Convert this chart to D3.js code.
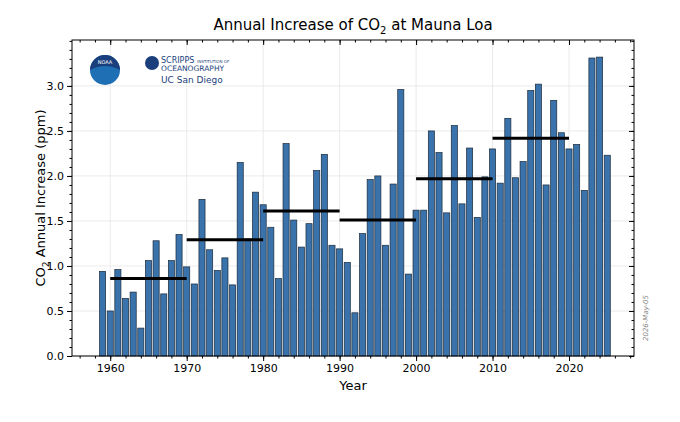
<!DOCTYPE html>
<html><head><meta charset="utf-8">
<script src="https://cdn.jsdelivr.net/npm/d3@7"></script>
<style>body{margin:0;background:#fff}text{font-family:"DejaVu Sans",sans-serif}</style>
</head><body><svg id="c" width="680" height="422"></svg>
<script>
const years = d3.range(1959, 2026);
const increase = [0.94,0.50,0.96,0.64,0.71,0.31,1.06,1.28,0.69,1.06,1.35,
  0.99,0.80,1.74,1.18,0.95,1.09,0.79,2.15,1.30,1.82,
  1.68,1.43,0.86,2.36,1.51,1.21,1.47,2.06,2.24,1.23,
  1.19,1.04,0.48,1.36,1.96,2.00,1.23,1.91,2.96,0.91,
  1.62,1.62,2.50,2.26,1.59,2.56,1.69,2.31,1.54,1.99,
  2.30,1.92,2.64,1.98,2.16,2.95,3.02,1.90,2.84,2.48,
  2.30,2.35,1.84,3.31,3.32,2.23];
const decades = [1960,1970,1980,1990,2000,2010];
const decadeMeans = [0.86,1.29,1.61,1.51,1.97,2.42];
const xTicks = [1960,1970,1980,1990,2000,2010,2020];
const yTicks = [0,0.5,1,1.5,2,2.5,3];

const svg = d3.select("#c");
const L=72,R=634,T=40,B=356;
const x = d3.scaleLinear().domain([1955,2028.5]).range([L,R]);
const y = d3.scaleLinear().domain([0,3.51]).range([B,T]);

// grid
svg.append("g").selectAll("line").data(xTicks).join("line")
  .attr("x1",d=>x(d)).attr("x2",d=>x(d)).attr("y1",T).attr("y2",B)
  .attr("stroke","#e4e4e4").attr("stroke-width",0.8);
svg.append("g").selectAll("line").data(yTicks).join("line")
  .attr("x1",L).attr("x2",R).attr("y1",d=>y(d)).attr("y2",d=>y(d))
  .attr("stroke","#e4e4e4").attr("stroke-width",0.8);

// bars
const bw = (x(1)-x(0))*0.8;
svg.append("g").selectAll("rect").data(years).join("rect")
  .attr("x",(d)=>x(d)-bw/2).attr("width",bw)
  .attr("y",(d,i)=>y(increase[i])).attr("height",(d,i)=>y(0)-y(increase[i]))
  .attr("fill","#3a72ab").attr("stroke","#1a2a3a").attr("stroke-width",0.7);

// decadal means
svg.append("g").selectAll("line").data(decades).join("line")
  .attr("x1",d=>x(d)).attr("x2",d=>x(d+10))
  .attr("y1",(d,i)=>y(decadeMeans[i])).attr("y2",(d,i)=>y(decadeMeans[i]))
  .attr("stroke","#000").attr("stroke-width",3);

// axes
const ax = svg.append("g").attr("transform",`translate(0,${B})`)
  .call(d3.axisBottom(x).tickValues(xTicks).tickFormat(d3.format("d")).tickSize(5));
svg.append("g").attr("transform",`translate(0,${B})`)
  .call(d3.axisBottom(x).tickValues(d3.range(1956,2029,2)).tickFormat("").tickSize(2.5));
const ay = svg.append("g").attr("transform",`translate(${L},0)`)
  .call(d3.axisLeft(y).tickValues(yTicks).tickFormat(d3.format(".1f")).tickSize(5));
svg.append("g").attr("transform",`translate(${L},0)`)
  .call(d3.axisLeft(y).tickValues(d3.range(0,3.51,0.1)).tickFormat("").tickSize(2.5));
svg.append("g").attr("transform",`translate(${R},0)`)
  .call(d3.axisLeft(y).tickValues(yTicks).tickFormat("").tickSize(5));
svg.append("g").attr("transform",`translate(${R},0)`)
  .call(d3.axisLeft(y).tickValues(d3.range(0,3.51,0.1)).tickFormat("").tickSize(2.5));
svg.append("g").attr("transform",`translate(0,${T})`)
  .call(d3.axisTop(x).tickValues(xTicks).tickFormat("").tickSize(-5));
svg.append("g").attr("transform",`translate(0,${T})`)
  .call(d3.axisTop(x).tickValues(d3.range(1956,2029,2)).tickFormat("").tickSize(-2.5));
svg.selectAll(".domain").remove();
svg.selectAll(".tick text").attr("font-size",11).attr("fill","#000");
svg.append("rect").attr("x",L).attr("y",T).attr("width",R-L).attr("height",B-T)
  .attr("fill","none").attr("stroke","#000").attr("stroke-width",1);

// titles
svg.append("text").attr("x",(L+R)/2).attr("y",30).attr("text-anchor","middle")
  .attr("font-size",15).html('Annual Increase of CO<tspan font-size="10" dy="4">2</tspan><tspan dy="-4"> at Mauna Loa</tspan>');
svg.append("text").attr("x",(L+R)/2).attr("y",390).attr("text-anchor","middle")
  .attr("font-size",13).text("Year");
svg.append("text").attr("transform",`translate(45,${(T+B)/2}) rotate(-90)`).attr("text-anchor","middle")
  .attr("font-size",13).html('CO<tspan font-size="9" dy="4">2</tspan><tspan dy="-4"> Annual Increase (ppm)</tspan>');
svg.append("text").attr("transform","translate(648,318) rotate(-90)").attr("text-anchor","middle")
  .attr("font-size",7).attr("font-style","italic").attr("fill","#888").text("2026-May-05");

// logos (approximations)
svg.append("circle").attr("cx",105).attr("cy",70).attr("r",15).attr("fill","#1f6fb5");
svg.append("path").attr("d","M90,70 A15,15 0 0 1 120,70 Q105,62 90,70Z").attr("fill","#1b3f7c");
svg.append("text").attr("x",105).attr("y",64).attr("text-anchor","middle").attr("font-size",5).attr("fill","#fff").text("NOAA");
svg.append("circle").attr("cx",152).attr("cy",63).attr("r",7).attr("fill","#1b3f7c");
svg.append("text").attr("x",161).attr("y",63).attr("font-size",8).attr("font-family","Liberation Serif").attr("fill","#1b3f7c").text("SCRIPPS");
svg.append("text").attr("x",197).attr("y",63).attr("font-size",4).attr("fill","#1b3f7c").text("INSTITUTION OF");
svg.append("text").attr("x",161).attr("y",71).attr("font-size",7.5).attr("font-family","Liberation Serif").attr("fill","#1b3f7c").text("OCEANOGRAPHY");
svg.append("text").attr("x",161).attr("y",83).attr("font-size",9).attr("font-family","Liberation Serif").attr("fill","#1b3f7c").text("UC San Diego");
</script></body></html>
